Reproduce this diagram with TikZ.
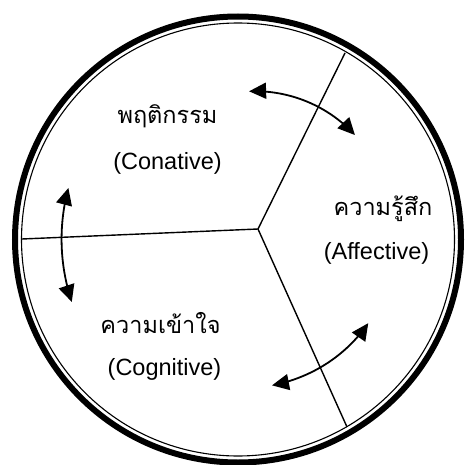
\documentclass[tikz,border=0pt]{standalone}
\usepackage{fontspec}
\setmainfont{Liberation Sans}
\newfontfamily\thaifont[Script=Thai]{Loma}
\usetikzlibrary{arrows.meta}
\begin{document}
\begin{tikzpicture}[x=1pt,y=-1pt,
  spoke/.style={line width=1.4pt},
  cycarrow/.style={line width=1.8pt,{Triangle[length=17pt,width=16pt]}-{Triangle[length=17pt,width=16pt]}},
  latin/.style={anchor=base,inner sep=0pt,font=\fontsize{23.5}{28}\selectfont},
  thai/.style={anchor=base,inner sep=0pt,font=\thaifont\fontsize{23.5}{28}\selectfont}]
\useasboundingbox[fill=white] (0,0) rectangle (468,465);
% rings
\coordinate (o) at (238,239.5);
\draw[line width=6pt] (o) circle[radius=223];
\draw[line width=1.1pt] (o) circle[radius=216.5];
% spokes
\coordinate (c) at (258,229);
\coordinate (eL) at (22,239);
\coordinate (eU) at (345,53);
\coordinate (eD) at (347,427);
\draw[spoke] (eL) -- (c) -- (eU);
\draw[spoke] (c) -- (eD);
% arrows (arcs round the centre of the spokes)
\draw[cycarrow] plot[domain=0:1,samples=40,smooth,variable=\t]
  ({258+(138-3*\t)*cos(-93.7+49.6*\t)},{229+(138-3*\t)*sin(-93.7+49.6*\t)});
\draw[cycarrow] plot[domain=0:1,samples=40,smooth,variable=\t]
  ({258+(194+6*\t)*cos(192.2-33.6*\t)},{229+(194+6*\t)*sin(192.2-33.6*\t)});
\draw[cycarrow] plot[domain=0:1,samples=40,smooth,variable=\t]
  ({258+(145+12*\t)*cos(40.5+44.4*\t)},{229+(145+12*\t)*sin(40.5+44.4*\t)});
% labels
\node[thai] (conTh) at (167.5,124) {พฤติกรรม};
\node[latin] (conEn) at (167.5,170) {(Conative)};
\node[thai] (affTh) at (383,215) {ความรู้สึก};
\node[latin] (affEn) at (376.5,259) {(Affective)};
\node[thai] (cogTh) at (160.5,333) {ความเข้าใจ};
\node[latin] (cogEn) at (164.5,375) {(Cognitive)};
\end{tikzpicture}
\end{document}
